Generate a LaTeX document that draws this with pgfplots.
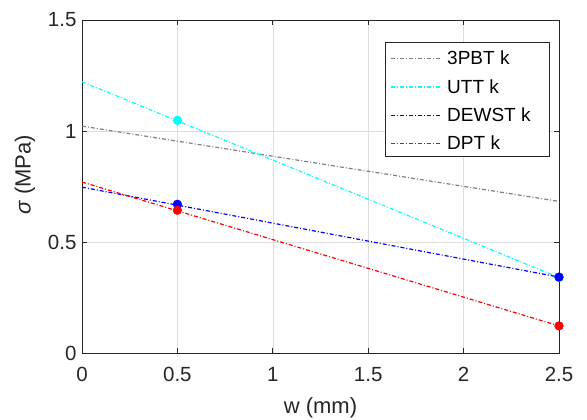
\documentclass[border=0pt]{standalone}
\usepackage{pgfplots}
\pgfplotsset{compat=1.18}
\usepackage{fontspec}
\setmainfont{Liberation Sans}
\definecolor{axgray}{RGB}{38,38,38}
\definecolor{gridc}{RGB}{222,222,222}
\definecolor{lgray}{RGB}{128,128,128}
\definecolor{mcyan}{RGB}{0,255,255}
\definecolor{mblue}{RGB}{0,0,255}
\definecolor{mred}{RGB}{255,0,0}
\tikzset{mdd/.style={line width=1.2bp, dash pattern=on 4bp off 2bp on 1bp off 2bp}}
\begin{document}
\begin{tikzpicture}
\useasboundingbox (-82bp,-67bp) rectangle (505bp,353bp);
\begin{axis}[
  at={(0,0)}, anchor=south west,
  width=477bp, height=333bp, scale only axis,
  xmin=0, xmax=2.5, ymin=0, ymax=1.5,
  xtick={0,0.5,1,1.5,2,2.5}, ytick={0,0.5,1,1.5},
  xticklabels={0,0.5,1,1.5,2,2.5},
  yticklabels={0,0.5,1,1.5},
  grid=major, major grid style={gridc, line width=0.6bp},
  axis line style={axgray, line width=0.7bp},
  tick style={axgray, line width=0.7bp}, tick align=inside, major tick length=5bp,
  ticklabel style={font=\fontsize{20.5bp}{24bp}\selectfont, text=axgray},
  xticklabel style={yshift=-11bp},
  yticklabel style={xshift=-2bp},
  /pgf/number format/assume math mode=true,
  xlabel={w (mm)}, ylabel={\textit{σ} (MPa)},
  label style={font=\fontsize{22bp}{25bp}\selectfont, text=axgray},
  xlabel style={at={(axis description cs:0.5,-0.165)}, anchor=center},
  ylabel style={at={(axis description cs:-0.1195,0.535)}, anchor=center},
  legend style={at={(rel axis cs:0.637,0.934)}, anchor=north west,
    draw=none, fill=none,
    font=\fontsize{19bp}{22bp}\selectfont,
    inner xsep=4bp, inner ysep=7bp, row sep=9bp, column sep=5bp,
    nodes={inner sep=2bp}},
  legend cell align=left,
]
\draw[axgray, fill=white, line width=0.7bp] (rel axis cs:0.637,0.934) rectangle (rel axis cs:0.979,0.592);
\addlegendimage{legend image code/.code={\draw[draw=lgray, mdd] (0bp,0bp) -- (49bp,0bp);}}
\addlegendentry{3PBT k}
\addlegendimage{legend image code/.code={\draw[draw=mcyan, mdd] (0bp,0bp) -- (49bp,0bp);}}
\addlegendentry{UTT k}
\addlegendimage{legend image code/.code={\draw[draw=mblue, mdd] (0bp,0bp) -- (49bp,0bp);}}
\addlegendentry{DEWST k\rule{10bp}{0bp}}
\addlegendimage{legend image code/.code={\draw[draw=mred, mdd] (0bp,0bp) -- (49bp,0bp);}}
\addlegendentry{DPT k}
\addplot[color=lgray, mdd, forget plot] coordinates {(0,1.022) (2.5,0.683)};
\addplot[color=mcyan, mdd, forget plot] coordinates {(0,1.222) (2.5,0.340)};
\addplot[color=mblue, mdd, forget plot] coordinates {(0,0.747) (2.5,0.342)};
\addplot[color=mred, mdd, forget plot] coordinates {(0,0.770) (2.5,0.122)};
\addplot[only marks, mark=*, mark size=4.4bp, color=mcyan, forget plot] coordinates {(0.5,1.048) (2.5,0.340)};
\addplot[only marks, mark=*, mark size=4.4bp, color=mblue, forget plot] coordinates {(0.5,0.670) (2.5,0.342)};
\addplot[only marks, mark=*, mark size=4.4bp, color=mred, forget plot] coordinates {(0.5,0.643) (2.5,0.122)};
\end{axis}
\end{tikzpicture}
\end{document}
